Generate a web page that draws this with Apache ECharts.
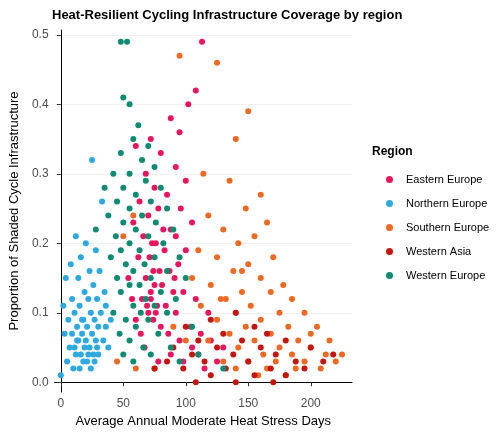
<!DOCTYPE html>
<html>
<head>
<meta charset="utf-8">
<script src="https://cdn.jsdelivr.net/npm/echarts@6/dist/echarts.min.js"></script>
<style>html,body{margin:0;padding:0;background:#fff}#chart{width:500px;height:439px}</style>
</head>
<body>
<div id="chart"></div>
<script>
// [heat stress days, shaded proportion]
const regions = ['Eastern Europe', 'Northern Europe', 'Southern Europe', 'Western Asia', 'Western Europe']
const colors = ['#E8175D', '#2EA9E0', '#EE6A24', '#C4160F', '#0E8B70']

const easternEurope = [
  [113,0.49],[108,0.42],[102,0.40],[88,0.38],[95,0.36],[72,0.35],[60,0.34],[80,0.33],[92,0.31],[68,0.30],
  [100,0.29],[75,0.28],[85,0.27],[63,0.26],[96,0.25],[78,0.25],[70,0.24],[105,0.23],[58,0.23],[88,0.22],
  [66,0.21],[92,0.21],[76,0.20],[83,0.19],[100,0.19],[62,0.18],[71,0.18],[94,0.17],[79,0.16],[87,0.16],
  [54,0.15],[68,0.15],[75,0.14],[81,0.14],[90,0.13],[98,0.13],[65,0.12],[72,0.12],[77,0.11],[84,0.11],
  [70,0.10],[76,0.10],[92,0.10],[60,0.09],[74,0.09],[80,0.08],[104,0.08],[112,0.07],[86,0.07],[95,0.06],
  [120,0.06],[67,0.05],[105,0.05],[130,0.05],[88,0.04],[110,0.04],[78,0.03],[98,0.03],[115,0.02],[125,0.03],
  [72,0.13],[74,0.16],[69,0.11],[73,0.20],[82,0.22],[91,0.15],[57,0.12],[64,0.07],[118,0.10],[108,0.12]
]
const northernEurope = [
  [25,0.32],[33,0.26],[12,0.21],[20,0.20],[28,0.19],[16,0.18],[8,0.17],[23,0.16],[31,0.16],[4,0.15],
  [14,0.15],[26,0.14],[19,0.13],[35,0.13],[9,0.12],[22,0.12],[29,0.12],[2,0.11],[15,0.11],[24,0.10],
  [32,0.10],[11,0.10],[18,0.09],[27,0.09],[6,0.09],[21,0.08],[13,0.08],[30,0.08],[36,0.08],[17,0.07],
  [25,0.07],[9,0.07],[3,0.07],[20,0.06],[14,0.06],[28,0.06],[34,0.06],[11,0.05],[19,0.05],[23,0.05],
  [7,0.05],[16,0.04],[26,0.04],[30,0.04],[12,0.04],[21,0.03],[5,0.03],[18,0.03],[27,0.03],[10,0.02],
  [15,0.02],[24,0.02],[0,0.01],[38,0.05],[40,0.09],[36,0.11],[22,0.04],[13,0.06],[17,0.09],[29,0.05]
]
const southernEurope = [
  [95,0.47],[125,0.46],[150,0.39],[140,0.35],[114,0.30],[135,0.29],[160,0.27],[148,0.25],[118,0.24],[165,0.23],
  [130,0.22],[155,0.21],[142,0.20],[110,0.19],[170,0.18],[125,0.18],[150,0.17],[138,0.16],[160,0.15],[178,0.14],
  [120,0.14],[145,0.13],[168,0.13],[132,0.12],[185,0.12],[152,0.11],[112,0.11],[175,0.10],[140,0.10],[195,0.10],
  [160,0.09],[125,0.09],[182,0.08],[148,0.08],[205,0.08],[168,0.07],[135,0.07],[190,0.06],[155,0.06],[118,0.06],
  [175,0.05],[200,0.05],[142,0.05],[162,0.04],[185,0.04],[212,0.04],[130,0.03],[150,0.03],[172,0.03],[195,0.03],
  [220,0.03],[140,0.02],[165,0.02],[188,0.02],[208,0.02],[158,0.01],[180,0.01],[225,0.04],[60,0.02],[45,0.03],
  [50,0.21],[58,0.24],[75,0.02],[100,0.06],[105,0.15],[90,0.08],[145,0.16],[128,0.12],[200,0.07],[215,0.06]
]
const westernAsia = [
  [140,0.10],[120,0.09],[155,0.08],[100,0.08],[130,0.07],[165,0.07],[110,0.06],[145,0.06],[180,0.06],[90,0.05],
  [125,0.05],[160,0.05],[200,0.05],[105,0.04],[138,0.04],[172,0.04],[218,0.04],[85,0.03],[115,0.03],[150,0.03],
  [188,0.03],[210,0.03],[98,0.02],[132,0.02],[168,0.02],[195,0.02],[75,0.02],[120,0.01],[155,0.01],[180,0.01],
  [140,0.00],[108,0.00],[170,0.00]
]
const westernEurope = [
  [48,0.49],[53,0.49],[50,0.41],[55,0.40],[62,0.37],[58,0.35],[70,0.34],[48,0.33],[65,0.32],[75,0.31],
  [42,0.30],[55,0.30],[68,0.29],[80,0.28],[50,0.28],[60,0.27],[72,0.26],[45,0.26],[85,0.25],[55,0.25],
  [65,0.24],[38,0.24],[76,0.23],[50,0.23],[60,0.22],[90,0.22],[44,0.21],[70,0.21],[55,0.20],[82,0.20],
  [48,0.19],[63,0.19],[40,0.18],[75,0.18],[95,0.18],[52,0.17],[67,0.17],[58,0.16],[85,0.16],[45,0.15],
  [72,0.15],[100,0.15],[55,0.14],[63,0.14],[80,0.13],[48,0.13],[68,0.12],[92,0.12],[58,0.11],[75,0.11],
  [42,0.10],[64,0.10],[85,0.10],[52,0.09],[70,0.09],[60,0.08],[105,0.08],[47,0.07],[78,0.07],[55,0.06],
  [66,0.05],[88,0.05],[50,0.04],[72,0.04],[110,0.04],[58,0.03],[95,0.03],[130,0.02],[28,0.22],[35,0.28]
]
const seriesData = [easternEurope, northernEurope, southernEurope, westernAsia, westernEurope]

const xTicks = [0, 50, 100, 150, 200]
const yTicks = [0, 0.1, 0.2, 0.3, 0.4, 0.5]

const chart = echarts.init(document.getElementById('chart'))
const axisText = { color: '#4d4d4d', fontSize: 12, fontFamily: 'Liberation Sans' }
chart.setOption({
  animation: false,
  title: {
    text: 'Heat-Resilient Cycling Infrastructure Coverage by region',
    left: 47, top: 4,
    textStyle: { fontSize: 13, fontWeight: 'bold', color: '#000', fontFamily: 'Liberation Sans' }
  },
  legend: {
    orient: 'vertical', left: 381, top: 169,
    data: regions, icon: 'circle', itemWidth: 7, itemHeight: 7, itemGap: 13,
    textStyle: { fontSize: 11, color: '#000', fontFamily: 'Liberation Sans', padding: [0, 0, 0, 8] }
  },
  graphic: [{
    type: 'text', left: 372, top: 146,
    style: { text: 'Region', font: 'bold 12px Liberation Sans', fill: '#000' }
  }],
  grid: { left: 48, right: 148, top: 30, bottom: 47 },
  xAxis: {
    type: 'value', min: -5, max: 233,
    name: 'Average Annual Moderate Heat Stress Days', nameLocation: 'middle', nameGap: 20,
    nameTextStyle: { fontSize: 13, color: '#000', fontFamily: 'Liberation Sans' },
    axisLine: { show: true, lineStyle: { color: '#000' } },
    axisLabel: { ...axisText, margin: 6, customValues: xTicks, formatter: v => v },
    axisTick: { show: true, customValues: xTicks, lineStyle: { color: '#333' }, length: 4 },
    splitLine: { show: false }
  },
  yAxis: {
    type: 'value', min: -0.014, max: 0.507,
    name: 'Proportion of Shaded Cycle Infrastructure', nameLocation: 'middle', nameGap: 32,
    nameTextStyle: { fontSize: 13, color: '#000', fontFamily: 'Liberation Sans' },
    axisLine: { show: true, lineStyle: { color: '#000' } },
    axisLabel: { ...axisText, margin: 6, customValues: yTicks, formatter: v => v.toFixed(1) },
    axisTick: { show: true, customValues: yTicks, lineStyle: { color: '#333' }, length: 4 },
    splitLine: { show: true, customValues: yTicks, lineStyle: { color: '#f2f2f2' } }
  },
  series: regions.map((r, i) => ({
    name: r, type: 'scatter', data: seriesData[i], symbolSize: 6,
    itemStyle: { color: colors[i], opacity: 1 }
  }))
})
</script>
</body>
</html>
